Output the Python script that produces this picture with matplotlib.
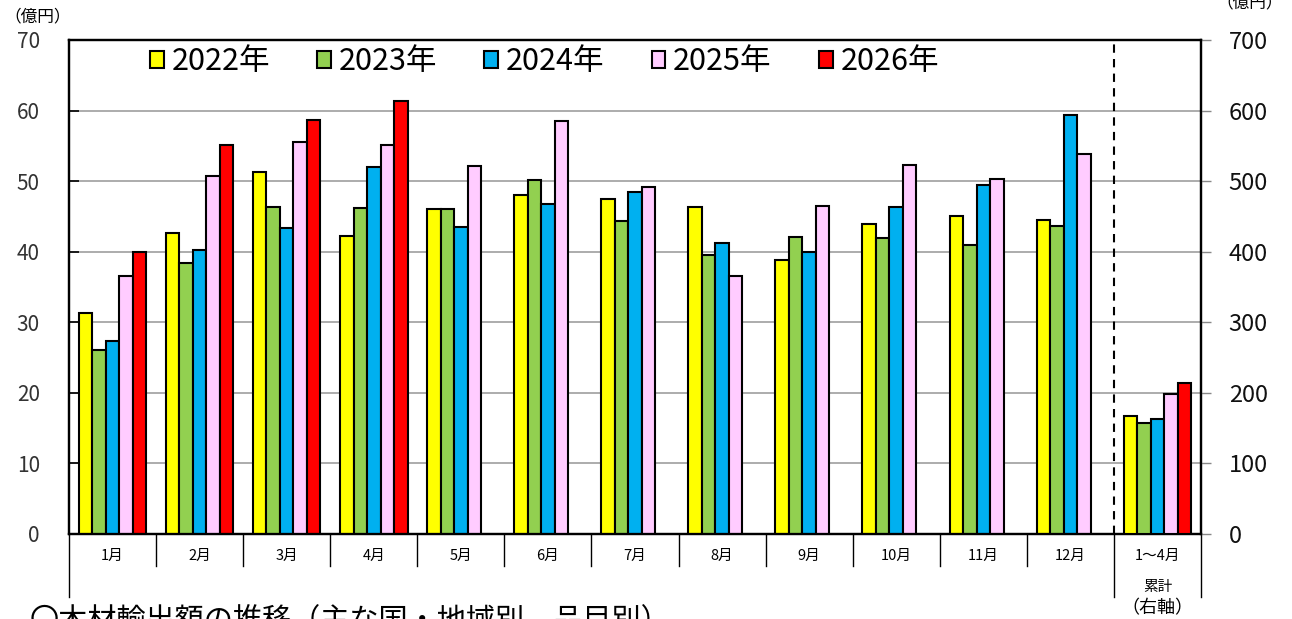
import matplotlib
matplotlib.use("Agg")
import matplotlib.pyplot as plt
from matplotlib.patches import Patch
from matplotlib.transforms import blended_transform_factory
import numpy as np

plt.rcParams['font.family'] = ['Noto Sans CJK JP', 'DejaVu Sans']

# ---- data ----
categories = ['1月', '2月', '3月', '4月', '5月', '6月', '7月', '8月', '9月', '10月', '11月', '12月', '1～4月']
years = ['2022年', '2023年', '2024年', '2025年', '2026年']
colors = ['#FFFF00', '#92D050', '#00B0F0', '#FFCCFF', '#FF0000']

y2022 = [31.3, 42.7, 51.3, 42.2, 46.1, 48.0, 47.5, 46.3, 38.8, 43.9, 45.0, 44.5]
y2023 = [26.1, 38.4, 46.4, 46.2, 46.1, 50.1, 44.3, 39.6, 42.1, 42.0, 40.9, 43.6]
y2024 = [27.3, 40.3, 43.3, 52.0, 43.5, 46.8, 48.5, 41.2, 40.0, 46.3, 49.4, 59.4]
y2025 = [36.6, 50.7, 55.6, 55.1, 52.1, 58.5, 49.2, 36.5, 46.5, 52.3, 50.3, 53.8]
y2026 = [40.0, 55.1, 58.7, 61.4]
monthly = [y2022, y2023, y2024, y2025, y2026]

cumulative = [167, 157, 163, 198, 214]  # 1～4月累計 (right axis)

left_ticks = [0, 10, 20, 30, 40, 50, 60, 70]
right_ticks = [0, 100, 200, 300, 400, 500, 600, 700]

# ---- figure ----
W, H = 1292, 619
fig = plt.figure(figsize=(W / 100, H / 100), dpi=100)
ax = fig.add_axes([69 / W, 1 - 534 / H, 1132 / W, 494 / H])
ax2 = ax.twinx()

n = len(years)
bw = 0.155
offsets = (np.arange(n) - (n - 1) / 2) * bw

for i, vals in enumerate(monthly):
    xs = np.arange(len(vals)) + offsets[i]
    ax.bar(xs, vals, width=bw, color=colors[i], edgecolor='black', linewidth=1.5, zorder=3)

cum_x = len(categories) - 1
ax2.bar(cum_x + offsets, cumulative, width=bw, color=colors, edgecolor='black', linewidth=1.5, zorder=3)

ax.set_xlim(-0.5, len(categories) - 0.5)
ax.set_ylim(0, 70)
ax2.set_ylim(0, 700)
ax.set_yticks(left_ticks)
ax2.set_yticks(right_ticks)
ax.set_yticklabels([str(t) for t in left_ticks], fontsize=15, color='#333333')
ax2.set_yticklabels([str(t) for t in right_ticks], fontsize=17, color='#111111')

ax.yaxis.grid(True, color='#a6a6a6', linewidth=1.3)
ax.set_axisbelow(True)
ax.tick_params(axis='y', direction='in', length=7, width=1.2, pad=21)
ax2.tick_params(axis='y', direction='out', length=7, width=1.0, color='#888888', pad=13)

for a in (ax, ax2):
    for s in a.spines.values():
        s.set_linewidth(1.6)
        s.set_color('black')

# x labels
ax.set_xticks(np.arange(len(categories)))
ax.set_xticklabels(categories, fontsize=10.5)
ax.tick_params(axis='x', length=0, pad=11)

# separators below axis
tr = blended_transform_factory(ax.transData, ax.transAxes)
short = -32 / 494
long_ = -63 / 494
for k in range(len(categories) + 1):
    xb = k - 0.5
    yend = long_ if k in (0, len(categories) - 1, len(categories)) else short
    ax.plot([xb, xb], [0, yend], color='black', lw=1.0, transform=tr, clip_on=False, zorder=5)

# dashed separator for cumulative
ax.axvline(len(categories) - 1.5, color='black', lw=1.5, ls=(0, (4, 3)), zorder=4)

# cumulative labels
ax.text(cum_x, -53 / 494, '累計', transform=tr, ha='center', va='center', fontsize=10.5)
ax.text(cum_x, -74 / 494, '（右軸）', transform=tr, ha='center', va='center', fontsize=13)

# unit labels
fig.text(4 / W, 1 - 17 / H, '（億円）', ha='left', va='center', fontsize=12)
fig.text(1216 / W, 1 - 3 / H, '（億円）', ha='left', va='center', fontsize=12)

# legend
handles = [Patch(facecolor=c, edgecolor='black', linewidth=1.5) for c in colors]
fig.legend(handles, years, loc='center left', bbox_to_anchor=(150 / W, 1 - 62 / H),
           ncol=5, frameon=False, fontsize=22, handlelength=0.45, handleheight=0.45,
           handletextpad=0.25, columnspacing=1.55, borderpad=0, borderaxespad=0)

# clipped caption at the bottom
fig.text(30 / W, 1 - 606 / H, '〇木材輸出額の推移（主な国・地域別、品目別）', ha='left', va='top', fontsize=21)

fig.savefig('out.png', dpi=100)
